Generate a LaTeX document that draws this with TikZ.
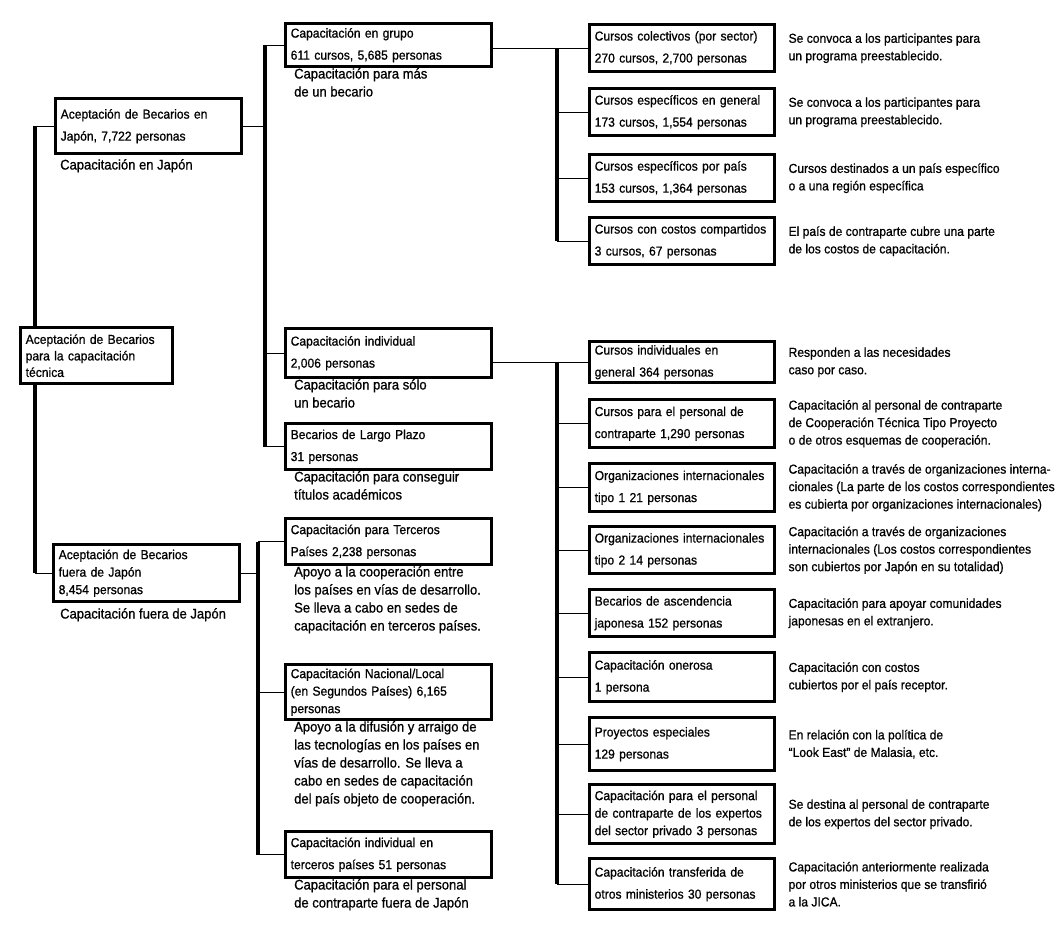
\documentclass[tikz,border=0pt]{standalone}
\usepackage{fontspec}
\setmainfont{Liberation Sans}
\newfontfamily\cond[FakeStretch=0.93,FakeBold=0.8]{Liberation Sans}
\begin{document}
\begin{tikzpicture}[x=1pt,y=-1pt,
  bx/.style={draw=black, line width=3.4pt, fill=white, anchor=north west, align=left,
    inner xsep=5pt, inner ysep=1pt, font={\cond\fontsize{13}{22}\selectfont}},
  three/.style={font={\cond\fontsize{13}{17.5}\selectfont}},
  lvA/.style={bx, minimum width=186pt, text width=176pt},
  lvB/.style={bx, minimum width=206pt, text width=196pt},
  lvC/.style={bx, minimum width=185pt, text width=175pt},
  captxt/.style={anchor=north west, align=left, inner sep=0pt, font={\cond\fontsize{14}{18}\selectfont}},
  dsc/.style={anchor=west, align=left, inner sep=0pt, font={\cond\fontsize{13}{17.5}\selectfont}},
  bus/.style={line width=3.4pt},
  link/.style={line width=1.3pt}]
\useasboundingbox[fill=white] (0,0) rectangle (1057,926);

% ---------- level 1 ----------
\node[lvA, minimum height=55pt] (japan) at (54,97) {Aceptación de Becarios en\\Japón, 7,722 personas};
\node[captxt] (capjapan) at (60,159) {Capacitación en Japón};
\node[lvA, three, minimum height=57pt] (fuera) at (52,543) {Aceptación de Becarios\\fuera de Japón\\8,454 personas};
\node[captxt] (capfuera) at (60,608) {Capacitación fuera de Japón};

% ---------- level 2 ----------
\node[lvB, minimum height=43pt] (grupo) at (284,22) {Capacitación en grupo\\611 cursos, 5,685 personas};
\node[captxt] (capgrupo) at (294,68) {Capacitación para más\\de un becario};
\node[lvB, minimum height=49pt] (indiv) at (284,327) {Capacitación individual\\2,006 personas};
\node[captxt] (capindiv) at (294,379) {Capacitación para sólo\\un becario};
\node[lvB, minimum height=46pt] (largo) at (284,422) {Becarios de Largo Plazo\\31 personas};
\node[captxt] (caplargo) at (294,471) {Capacitación para conseguir\\títulos académicos};
\node[lvB, minimum height=46pt] (terceros) at (284,517) {Capacitación para Terceros\\Países 2,238 personas};
\node[captxt] (capterceros) at (294,566) {Apoyo a la cooperación entre\\los países en vías de desarrollo.\\Se lleva a cabo en sedes de\\capacitación en terceros países.};
\node[lvB, three, minimum height=55pt] (nacional) at (284,663) {Capacitación Nacional/Local\\(en Segundos Países) 6,165\\personas};
\node[captxt] (capnacional) at (294,721) {Apoyo a la difusión y arraigo de\\las tecnologías en los países en\\vías de desarrollo. Se lleva a\\cabo en sedes de capacitación\\del país objeto de cooperación.};
\node[lvB, minimum height=46pt] (indter) at (284,830) {Capacitación individual en\\terceros países 51 personas};
\node[captxt] (capindter) at (294,879) {Capacitación para el personal\\de contraparte fuera de Japón};

% ---------- level 3 (grupo) ----------
\node[lvC, minimum height=47pt] (g1) at (588,23) {Cursos colectivos (por sector)\\270 cursos, 2,700 personas};
\node[lvC, minimum height=47pt] (g2) at (588,87) {Cursos específicos en general\\173 cursos, 1,554 personas};
\node[lvC, minimum height=47pt] (g3) at (588,153) {Cursos específicos por país\\153 cursos, 1,364 personas};
\node[lvC, minimum height=47pt] (g4) at (588,216) {Cursos con costos compartidos\\3 cursos, 67 personas};

% ---------- level 3 (individual) ----------
\node[lvC, minimum height=41pt] (i1) at (588,340) {Cursos individuales en\\general 364 personas};
\node[lvC, minimum height=48pt] (i2) at (588,398) {Cursos para el personal de\\contraparte 1,290 personas};
\node[lvC, minimum height=48pt] (i3) at (588,462) {Organizaciones internacionales\\tipo 1 21 personas};
\node[lvC, minimum height=47pt] (i4) at (588,525) {Organizaciones internacionales\\tipo 2 14 personas};
\node[lvC, minimum height=47pt] (i5) at (588,588) {Becarios de ascendencia\\japonesa 152 personas};
\node[lvC, minimum height=49pt] (i6) at (588,651) {Capacitación onerosa\\1 persona};
\node[lvC, minimum height=53pt] (i7) at (588,716) {Proyectos especiales\\129 personas};
\node[lvC, three, minimum height=59pt] (i8) at (588,783) {Capacitación para el personal\\de contraparte de los expertos\\del sector privado 3 personas};
\node[lvC, minimum height=51pt] (i9) at (588,857) {Capacitación transferida de\\otros ministerios 30 personas};

% ---------- descriptions ----------
\node[dsc] (dg1) at ([xshift=12pt]g1.east) {Se convoca a los participantes para\\un programa preestablecido.};
\node[dsc] (dg2) at ([xshift=12pt]g2.east) {Se convoca a los participantes para\\un programa preestablecido.};
\node[dsc] (dg3) at ([xshift=12pt]g3.east) {Cursos destinados a un país específico\\o a una región específica};
\node[dsc] (dg4) at ([xshift=12pt]g4.east) {El país de contraparte cubre una parte\\de los costos de capacitación.};
\node[dsc] (di1) at ([xshift=12pt]i1.east) {Responden a las necesidades\\caso por caso.};
\node[dsc] (di2) at ([xshift=12pt]i2.east) {Capacitación al personal de contraparte\\de Cooperación Técnica Tipo Proyecto\\o de otros esquemas de cooperación.};
\node[dsc] (di3) at ([xshift=12pt]i3.east) {Capacitación a través de organizaciones interna-\\cionales (La parte de los costos correspondientes\\es cubierta por organizaciones internacionales)};
\node[dsc] (di4) at ([xshift=12pt]i4.east) {Capacitación a través de organizaciones\\internacionales (Los costos correspondientes\\son cubiertos por Japón en su totalidad)};
\node[dsc] (di5) at ([xshift=12pt]i5.east) {Capacitación para apoyar comunidades\\japonesas en el extranjero.};
\node[dsc] (di6) at ([xshift=12pt]i6.east) {Capacitación con costos\\cubiertos por el país receptor.};
\node[dsc] (di7) at ([xshift=12pt]i7.east) {En relación con la política de\\“Look East” de Malasia, etc.};
\node[dsc] (di8) at ([xshift=12pt]i8.east) {Se destina al personal de contraparte\\de los expertos del sector privado.};
\node[dsc] (di9) at ([xshift=12pt]i9.east) {Capacitación anteriormente realizada\\por otros ministerios que se transfirió\\a la JICA.};

% ---------- connectors ----------
% left bus (behind root)
\coordinate (lbx) at (35,0);
\draw[bus] (japan.west -| lbx) -- (fuera.west -| lbx);
\draw[link] (japan.west -| lbx) -- (japan.west);
\draw[link] (fuera.west -| lbx) -- (fuera.west);
\node[bx, minimum width=152pt, text width=142pt, minimum height=56pt, font={\cond\fontsize{13}{16.5}\selectfont}] (root) at (19,326) {Aceptación de Becarios\\para la capacitación\\técnica};

% Japan bus
\coordinate (jbx) at (265,0);
\draw[bus] (grupo.west -| jbx) -- (largo.west -| jbx);
\draw[link] (japan.east) -- (japan.east -| jbx);
\draw[link] (grupo.west -| jbx) -- (grupo.west);
\draw[link] (indiv.west -| jbx) -- (indiv.west);
\draw[link] (largo.west -| jbx) -- (largo.west);

% fuera bus
\coordinate (fbx) at (258,0);
\draw[bus] (terceros.west -| fbx) -- (indter.west -| fbx);
\draw[link] (fuera.east) -- (fuera.east -| fbx);
\draw[link] (terceros.west -| fbx) -- (terceros.west);
\draw[link] (nacional.west -| fbx) -- (nacional.west);
\draw[link] (indter.west -| fbx) -- (indter.west);

% grupo bus
\coordinate (gbx) at (557,0);
\draw[bus] (g1.west -| gbx) -- (g4.west -| gbx);
\draw[link] (grupo.east |- g1.west) -- (g1.west);
\foreach \n in {g2,g3,g4} \draw[link] (\n.west -| gbx) -- (\n.west);

% individual bus
\draw[bus] (i1.west -| gbx) -- (i9.west -| gbx);
\draw[link] (indiv.east |- i1.west) -- (i1.west);
\foreach \n in {i2,i3,i4,i5,i6,i7,i8,i9} \draw[link] (\n.west -| gbx) -- (\n.west);
\end{tikzpicture}
\end{document}
